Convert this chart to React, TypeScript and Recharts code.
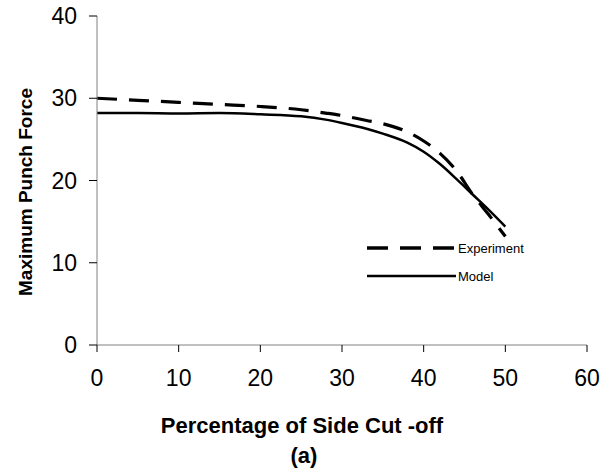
import React from "react";
import { LineChart, Line, XAxis, YAxis } from "recharts";

const cutOff = [0, 5, 10, 15, 20, 25, 28, 30, 33, 35, 38, 40, 42, 44, 46, 48, 50];
const experiment = [30, 29.75, 29.5, 29.25, 29.0, 28.6, 28.2, 27.9, 27.3, 26.9, 25.9, 24.8, 23.3, 21.2, 18.3, 15.8, 13.2];
const model = [28.2, 28.2, 28.15, 28.2, 28.05, 27.8, 27.4, 27.0, 26.3, 25.7, 24.6, 23.5, 22.0, 20.2, 18.3, 16.4, 14.4];
const xTicks = [0, 10, 20, 30, 40, 50, 60];
const yTicks = [0, 10, 20, 30, 40];
const seriesNames = ["Experiment", "Model"];

const data = cutOff.map((x, i) => ({ x, Experiment: experiment[i], Model: model[i] }));

const FONT = "Arial, 'Liberation Sans', sans-serif";

export default function App() {
  return (
    <div style={{ position: "absolute", left: 0, top: 0, width: 608, height: 474, background: "#fff" }}>
      <LineChart
        width={608}
        height={474}
        data={data}
        margin={{ top: 16, right: 21, bottom: 0, left: 0 }}
      >
        <XAxis
          dataKey="x"
          type="number"
          domain={[0, 60]}
          ticks={xTicks}
          interval={0}
          height={129}
          axisLine={{ stroke: "#808080" }}
          tickLine={{ stroke: "#000" }}
          tickSize={7}
          tickMargin={18}
          tick={{ fill: "#000", fontSize: 23, fontFamily: FONT }}
        />
        <YAxis
          type="number"
          domain={[0, 40]}
          ticks={yTicks}
          interval={0}
          width={97}
          axisLine={{ stroke: "#808080" }}
          tickLine={{ stroke: "#000" }}
          tickSize={8}
          tickMargin={12}
          tick={{ fill: "#000", fontSize: 23, fontFamily: FONT }}
        />
        <Line
          type="monotone"
          dataKey="Experiment"
          stroke="#000"
          strokeWidth={3.2}
          strokeDasharray="20 12"
          dot={false}
          isAnimationActive={false}
        />
        <Line
          type="monotone"
          dataKey="Model"
          stroke="#000"
          strokeWidth={2.5}
          dot={false}
          isAnimationActive={false}
        />
        <line x1={367} y1={248} x2={456} y2={248} stroke="#000" strokeWidth={3.5} strokeDasharray="21 12" />
        <text x={458} y={252.5} fontFamily={FONT} fontSize={13} fill="#000">
          {seriesNames[0]}
        </text>
        <line x1={367} y1={276} x2={456} y2={276} stroke="#000" strokeWidth={2.5} />
        <text x={458} y={280.5} fontFamily={FONT} fontSize={13} fill="#000">
          {seriesNames[1]}
        </text>
        <text x={302} y={433} textAnchor="middle" fontFamily={FONT} fontWeight="bold" fontSize={22} fill="#000">
          Percentage of Side Cut -off
        </text>
        <text x={304} y={463} textAnchor="middle" fontFamily={FONT} fontWeight="bold" fontSize={22} fill="#000">
          (a)
        </text>
        <text
          x={0}
          y={0}
          transform="translate(32,192) rotate(-90)"
          textAnchor="middle"
          fontFamily={FONT}
          fontWeight="bold"
          fontSize={19}
          fill="#000"
        >
          Maximum Punch Force
        </text>
      </LineChart>
    </div>
  );
}
